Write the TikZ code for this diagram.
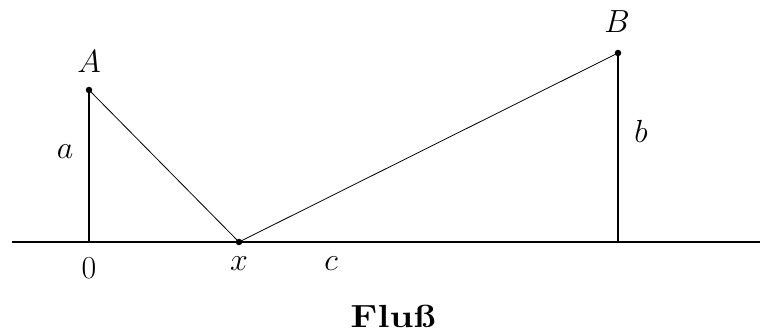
\RequirePackage{fix-cm}
\documentclass[tikz,border=0pt]{standalone}
\begin{document}
\begin{tikzpicture}[x=1pt,y=-1pt,
  dot/.style={circle,fill=black,inner sep=0pt,minimum size=6.5pt},
  lbl/.style={inner sep=0pt,font=\fontsize{32}{38}\selectfont},
  axisline/.style={line width=1.7pt},
  thinline/.style={line width=0.8pt}]
\useasboundingbox (0,0) rectangle (760,334);
\coordinate (L) at (12,242);
\coordinate (R) at (760,242);
\coordinate (O) at (89,242);
\coordinate (Bf) at (618,242);
\node[dot] (A) at (89,90) {};
\node[dot] (X) at (239,242) {};
\node[dot] (B) at (618,53) {};
\draw[axisline] (L) -- (R);
\draw[axisline] (A.center) -- (O);
\draw[axisline] (B.center) -- (Bf);
\draw[thinline] (A.center) -- (X.center) -- (B.center);
\node[lbl] (lA) at (89,62) {$A$};
\node[lbl] (lB) at (617,22) {$B$};
\node[lbl] (la) at (65,152) {$a$};
\node[lbl] (lb) at (641,131) {$b$};
\node[lbl] (l0) at (89,268) {$0$};
\node[lbl] (lx) at (239,264) {$x$};
\node[lbl] (lc) at (331,264) {$c$};
\node[lbl,xscale=1.2] (lF) at (393,316) {\fontsize{32}{38}\selectfont\bfseries Flu\ss};
\end{tikzpicture}
\end{document}
